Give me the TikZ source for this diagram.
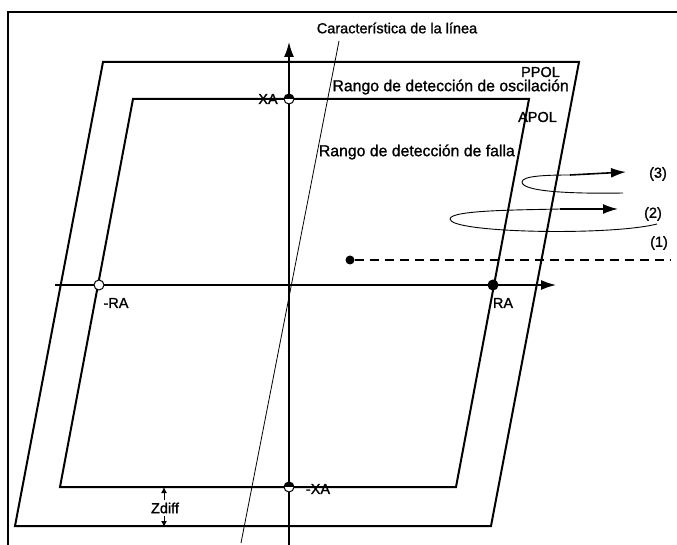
\documentclass[tikz,border=0pt]{standalone}
\usepackage{fontspec}
\setmainfont{Liberation Sans}[BoldFont=Liberation Sans, BoldFeatures={FakeBold=1.2}]
\usetikzlibrary{arrows.meta}
\begin{document}
\begin{tikzpicture}[x=1pt,y=-1pt,
  lbl/.style={font=\fontsize{14.5}{16}\selectfont\bfseries, inner sep=0pt},
  biglbl/.style={font=\fontsize{15.8}{17}\selectfont\bfseries, inner sep=0pt},
  frameline/.style={line width=1.6pt},
  polyline/.style={line width=2pt, line join=miter},
  axisline/.style={line width=1.5pt, -{Latex[length=15pt,width=10pt]}},
  thinline/.style={line width=0.8pt},
  trajarrow/.style={line width=0.9pt},
  bigtip/.style={-{Latex[length=15pt,width=10pt]}},
  zarrow/.style={line width=1pt, -{Latex[length=6pt,width=6pt]}},
  mkopen/.style={circle, draw, line width=1pt, fill=white, minimum size=10pt, inner sep=0pt},
  mkhalf/.style={circle, draw, line width=1pt, fill=white, minimum size=10pt, inner sep=0pt,
     path picture={\fill[black] (path picture bounding box.north west) rectangle (path picture bounding box.east);}},
  mkfull/.style={circle, draw, line width=1pt, fill=black, minimum size=10pt, inner sep=0pt},
  dotstart/.style={circle, fill=black, minimum size=9pt, inner sep=0pt}
]
\useasboundingbox (0,0) rectangle (677,545);

% outer frame (top and left edges visible)
\coordinate (f1) at (677,12);
\coordinate (f2) at (8,12);
\coordinate (f3) at (8,545);
\draw[frameline] (f1) -- (f2) -- (f3);

% PPOL (outer parallelogram)
\coordinate (Otl) at (103,62);
\coordinate (Otr) at (579,62);
\coordinate (Obr) at (491,526);
\coordinate (Obl) at (15,526);
\draw[polyline] (Otl) -- (Otr) -- (Obr) -- (Obl) -- cycle;

% APOL (inner parallelogram)
\coordinate (Itl) at (133,99);
\coordinate (Itr) at (529,99);
\coordinate (Ibr) at (456,487);
\coordinate (Ibl) at (60,487);
\draw[polyline] (Itl) -- (Itr) -- (Ibr) -- (Ibl) -- cycle;

% axes
\coordinate (vb) at (289,545);
\coordinate (vt) at (289,42);
\coordinate (hl) at (55,285);
\coordinate (hr) at (556,285);
\draw[axisline] (vb) -- (vt);
\draw[axisline] (hl) -- (hr);

% line characteristic
\node[lbl] (char) at (397,28) {Característica de la línea};
\coordinate (ct) at (339,41);
\coordinate (cb) at (241,543);
\draw[thinline] (ct) -- (cb);

% region labels
\node[lbl, anchor=east] (ppol) at (560,72) {PPOL};
\node[biglbl, anchor=east] (osc) at (569,87) {Rango de detección de oscilación};
\node[lbl, anchor=east] (apol) at (557,117) {APOL};
\node[biglbl, anchor=east] (falla) at (515,152) {Rango de detección de falla};

% markers on axes
\node[mkhalf] (xa) at (289,99) {};
\node[mkhalf] (mxa) at (289,487) {};
\node[mkopen] (mra) at (99,285) {};
\node[mkfull] (ra) at (493,285) {};
\node[lbl] (xal) at (268,99) {XA};
\node[lbl] (mxal) at (318,489) {-XA};
\node[lbl] (mral) at (116,303) {-RA};
\node[lbl] (ral) at (503,303) {RA};

% Zdiff
\node[lbl] (zd) at (165,508) {Zdiff};
\coordinate (zu) at (164,487);
\coordinate (zdn) at (164,527);
\draw[zarrow] (zd.north -| zu) ++(0,-2) -- (zu);
\draw[zarrow] (zd.south -| zdn) ++(0,2) -- (zdn);

% trajectories
\node[dotstart] (d1) at (350,260) {};
\coordinate (e1) at (670,260);
\draw[line width=1.8pt, dash pattern=on 9pt off 6pt] (d1) -- (e1);
\node[lbl] (l1) at (659,243) {(1)};

\coordinate (s2) at (657,224);
\coordinate (m2) at (450,219);
\coordinate (t2) at (618,209);
\draw[trajarrow] (s2) .. controls (610,236) and (450,233) .. (m2);
\draw[trajarrow] (m2) .. controls (450,210) and (520,210) .. (560,209);
\draw[line width=1.6pt, bigtip] (560,209) -- (t2);
\node[lbl] (l2) at (653,214) {(2)};

\coordinate (s3) at (623,193);
\coordinate (m3) at (522,182);
\coordinate (t3) at (626,172);
\draw[trajarrow] (s3) .. controls (565,194) and (522,191) .. (m3);
\draw[trajarrow] (m3) .. controls (522,176) and (545,175) .. (570,175);
\draw[line width=1.6pt, bigtip] (570,175) -- (t3);
\node[lbl] (l3) at (658,174) {(3)};
\end{tikzpicture}
\end{document}
